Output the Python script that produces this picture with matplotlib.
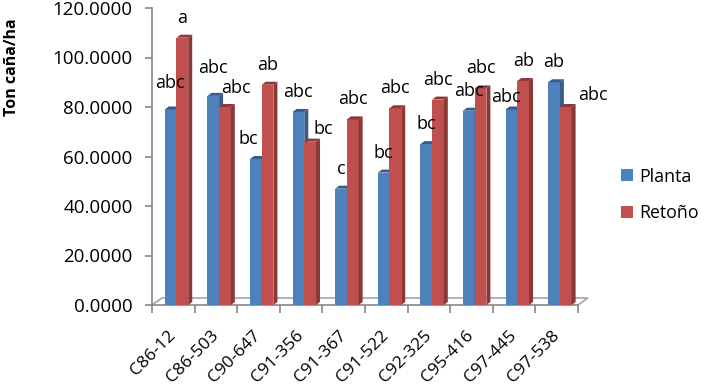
import matplotlib
matplotlib.use("Agg")
import matplotlib.pyplot as plt
from matplotlib.patches import Polygon, Rectangle, Patch
import numpy as np

categories = ["C86-12", "C86-503", "C90-647", "C91-356", "C91-367",
              "C91-522", "C92-325", "C95-416", "C97-445", "C97-538"]
planta = [79, 84.5, 59, 78, 47, 53.5, 65, 78.5, 79, 90]
retono = [108, 80, 89, 66, 75, 79.5, 83, 87.5, 90.5, 80]
planta_letters = ["abc", "abc", "bc", "abc", "c", "bc", "bc", "abc", "abc", "ab"]
retono_letters = ["a", "abc", "ab", "bc", "abc", "abc", "abc", "abc", "ab", "abc"]
yticks = [0, 20, 40, 60, 80, 100, 120]

# label nudges (pixels) for overlapping labels, as placed in the original
nudge = {("p", 0): (-1, 6), ("p", 1): (0, 8), ("r", 1): (11, -1),
         ("p", 2): (-8, 0), ("r", 3): (13, -7), ("p", 8): (-6, -8),
         ("r", 9): (27, -8)}

plt.rcParams['font.family'] = ['Open Sans', 'DejaVu Sans']
W, H = 710, 387
fig = plt.figure(figsize=(W/100, H/100), dpi=100)
L, R, B, T = 152, 578, 305, 8
ax = fig.add_axes([L/W, 1-B/H, (R-L)/W, (B-T)/H])
ax.set_xlim(-0.5, len(categories)-0.5)
ax.set_ylim(0, 120)

blue, blue_d = "#4F81BD", "#385D8A"
red, red_d = "#C0504D", "#8C3836"
gray = "#868686"

px_x = len(categories)/(R-L)   # data units per pixel
px_y = 120/(B-T)

bw = 0.275
off = -0.2
ddx, ddy = 4*px_x, 3*px_y

def bar3d(x0, h, face, dark, z):
    x1 = x0 + bw
    ax.add_patch(Rectangle((x0, 0), bw, h, facecolor=face, edgecolor='none', zorder=z))
    ax.add_patch(Polygon([(x1, 0), (x1+ddx, ddy), (x1+ddx, h+ddy), (x1, h)],
                         closed=True, facecolor=dark, edgecolor='none', zorder=z))
    ax.add_patch(Polygon([(x0, h), (x0+ddx, h+ddy), (x1+ddx, h+ddy), (x1, h)],
                         closed=True, facecolor=dark, edgecolor='none', zorder=z))

# floor
fdx, fdy = 10*px_x, 7*px_y
floor = Polygon([(-0.5, 0), (-0.5+fdx, fdy), (len(categories)-0.5+fdx, fdy),
                 (len(categories)-0.5, 0)], closed=False, fill=False,
                edgecolor="#A6A6A6", lw=1.2, zorder=1, clip_on=False)
ax.add_patch(floor)

for i in range(len(categories)):
    bar3d(i+off, planta[i], blue, blue_d, 3)
    bar3d(i+off+bw, retono[i], red, red_d, 4)
    for key, val, lab, xc in (("p", planta[i], planta_letters[i], i+off+bw/2),
                              ("r", retono[i], retono_letters[i], i+off+1.5*bw)):
        dx, dy = nudge.get((key, i), (0, 0))
        ax.annotate(lab, (xc, val), xytext=(dx*0.72, (20+dy)*0.72),
                    textcoords='offset points', ha='center', va='center',
                    fontsize=13, color='black', zorder=6)

for s in ['top', 'right']:
    ax.spines[s].set_visible(False)
ax.spines['left'].set_color(gray)
ax.spines['bottom'].set_color(gray)
ax.spines['left'].set_linewidth(1.2)
ax.spines['bottom'].set_linewidth(1.2)

ax.set_yticks(yticks)
ax.set_yticklabels([f"{v:.4f}" for v in yticks])
ax.tick_params(axis='y', direction='out', length=5, width=1.2, color=gray,
               pad=9, labelsize=13.5)

ax.set_xticks(np.arange(len(categories)))
ax.set_xticklabels(categories, rotation=45, ha='right', va='center',
                   rotation_mode='anchor', fontsize=12.5)
ax.tick_params(axis='x', which='major', length=0, pad=20)
ax.set_xticks(np.arange(len(categories)+1)-0.5, minor=True)
ax.tick_params(axis='x', which='minor', direction='out', length=6, width=1.2, color=gray)

fig.text(12/W, 1-67/H, "Ton caña/ha", rotation=90, ha='center', va='center',
         fontsize=11.5, fontweight='bold')

handles = [Patch(facecolor=blue, label="Planta"), Patch(facecolor=red, label="Retoño")]
fig.legend(handles=handles, loc='center left', bbox_to_anchor=(621/W, 1-195/H),
           frameon=False, fontsize=12.8, handlelength=0.65, handleheight=0.65,
           handletextpad=0.35, labelspacing=1.05, borderpad=0, borderaxespad=0)

fig.savefig("out.png", dpi=100)
